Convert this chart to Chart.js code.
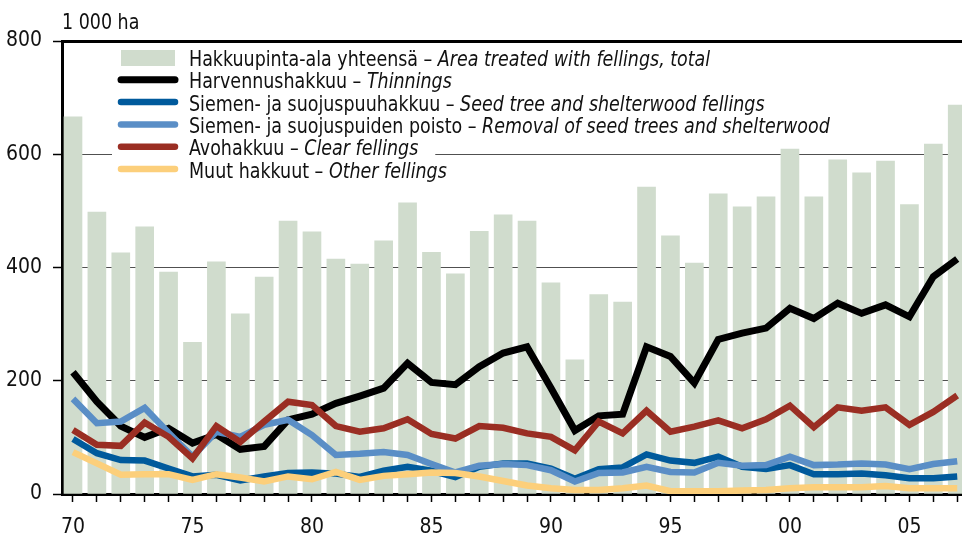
<!DOCTYPE html>
<html><head><meta charset="utf-8">
<script src="https://cdn.jsdelivr.net/npm/chart.js@4"></script>
<style>html,body{margin:0;padding:0;background:#fff}#wrap{position:relative;width:962px;height:534px}</style>
</head><body><div id="wrap"><canvas id="c" width="962" height="534"></canvas></div>
<script>
// ---- data ----
const years = [1970,1971,1972,1973,1974,1975,1976,1977,1978,1979,1980,1981,1982,1983,1984,1985,1986,1987,1988,1989,1990,1991,1992,1993,1994,1995,1996,1997,1998,1999,2000,2001,2002,2003,2004,2005,2006,2007];
const totalArea  = [666,498,426,472,392,268,410,318,383,482,463,415,406,447,514,427,389,464,493,482,373,237,352,339,542,456,408,530,507,525,609,525,590,567,588,511,618,687];
const thinnings  = [215,163,120,100,116,90,105,79,84,131,141,160,173,187,231,197,193,225,249,260,187,112,138,141,260,243,196,273,284,293,328,310,337,319,334,313,384,415];
const seedTree   = [97,72,60,59,45,31,34,24,31,37,38,36,30,41,48,41,30,48,54,54,45,27,44,47,70,59,55,66,48,44,51,35,35,36,33,28,28,31];
const removal    = [168,125,128,152,108,66,110,101,122,131,104,69,71,74,69,53,38,50,53,51,42,22,37,38,48,39,38,55,50,51,66,51,52,54,52,44,53,58];
const clearFell  = [113,87,85,126,101,63,120,92,128,163,157,120,110,116,132,106,98,120,117,107,101,77,128,107,147,110,119,130,116,132,156,118,153,147,153,122,145,174];
const otherFell  = [74,54,34,35,35,25,35,29,22,31,26,39,25,32,35,38,37,31,23,15,10,7,7,10,15,5,5,5,6,7,10,12,12,12,14,10,10,10];

const xLabelYears = [1970,1975,1980,1985,1990,1995,2000,2005];
const xLabelTexts = ['70','75','80','85','90','95','00','05'];
const yTicks = [0,200,400,600,800];
const unitLabel = '1 000 ha';

const legendFi = ['Hakkuupinta-ala yhteensä','Harvennushakkuu','Siemen- ja suojuspuuhakkuu','Siemen- ja suojuspuiden poisto','Avohakkuu','Muut hakkuut'];
const legendEn = ['Area treated with fellings, total','Thinnings','Seed tree and shelterwood fellings','Removal of seed trees and shelterwood','Clear fellings','Other fellings'];
const colors = ['#d0dccd','#000000','#005a9c','#5a8ec6','#9a2e23','#fccf7b'];

// ---- chart ----
const FONT = '"Liberation Sans Narrow","DejaVu Sans Condensed","Arial Narrow",sans-serif';
const FSIZE = 21;
const SQUEEZE = 0.925;
const pts = arr => years.map((y,i)=>({x:y, y:arr[i]}));
const lineDs = (i, arr, w, order) => ({
  type:'line', label:legendFi[i], data:pts(arr), borderColor:colors[i], backgroundColor:colors[i],
  borderWidth:w, pointRadius:0, tension:0, borderJoinStyle:'miter', borderCapStyle:'butt', order, fill:false
});

function squeezedText(c, txt, x, y){
  c.save();
  c.translate(x, y);
  c.scale(SQUEEZE, 1);
  c.fillText(txt, 0, 0);
  c.restore();
  return c.measureText(txt).width * SQUEEZE;
}

const overlay = {
  id:'overlay',
  afterDraw(chart){
    const c = chart.ctx;
    c.save();
    c.textBaseline = 'alphabetic';
    c.textAlign = 'left';
    c.fillStyle = '#111';
    c.font = `${FSIZE}px ${FONT}`;
    squeezedText(c, unitLabel, 62, 29);
    const base0 = 66, step = 22.3;
    legendFi.forEach((fi,i)=>{
      const b = base0 + i*step;
      c.font = `${FSIZE}px ${FONT}`;
      const w1 = c.measureText(fi + ' – ').width * SQUEEZE;
      c.font = `italic ${FSIZE}px ${FONT}`;
      const w2 = c.measureText(legendEn[i]).width * SQUEEZE;
      c.fillStyle = '#fff';
      c.fillRect(112, b-17, 189-112 + w1 + w2 + 17, 23);
    });
    legendFi.forEach((fi,i)=>{
      const b = base0 + i*step;
      if (i===0){
        c.fillStyle = colors[0];
        c.fillRect(121, 50, 54, 16);
      } else {
        c.beginPath();
        c.strokeStyle = colors[i];
        c.lineWidth = i===1 ? 7 : 6.5;
        c.lineCap = 'round';
        c.moveTo(121, b-8.5); c.lineTo(175, b-8.5);
        c.stroke();
      }
      c.fillStyle = '#111';
      c.font = `${FSIZE}px ${FONT}`;
      const w1 = squeezedText(c, fi + ' – ', 189, b);
      c.font = `italic ${FSIZE}px ${FONT}`;
      squeezedText(c, legendEn[i], 189 + w1, b);
    });
    c.restore();
  }
};

new Chart(document.getElementById('c'), {
  type:'bar',
  data:{ datasets:[
    lineDs(5, otherFell, 6.5, 1),
    lineDs(4, clearFell, 6.5, 2),
    lineDs(3, removal, 6.5, 3),
    lineDs(2, seedTree, 6.5, 4),
    lineDs(1, thinnings, 7, 5),
    { type:'bar', label:legendFi[0], data:pts(totalArea), backgroundColor:colors[0], barThickness:18, order:10, borderWidth:0 }
  ]},
  options:{
    responsive:false, animation:false, devicePixelRatio:1,
    layout:{ padding:{ top:41, left:0, right:0, bottom:0 } },
    plugins:{ legend:{ display:false }, tooltip:{ enabled:false }, title:{ display:false } },
    scales:{
      x:{
        type:'linear', min:1969.54, max:2007.2, z:1, offset:false,
        afterBuildTicks: s => { s.ticks = years.map(v=>({value:v})); },
        afterFit: s => { s.height = 40; s.paddingLeft = 0; s.paddingRight = 0; },
        ticks:{ autoSkip:false, maxRotation:0, minRotation:0, padding:13, color:'#111',
          font:{ family:FONT, size:FSIZE },
          callback: v => { const k = xLabelYears.indexOf(v); return k>=0 ? xLabelTexts[k] : ''; } },
        grid:{ drawOnChartArea:false, drawTicks:true, tickLength:8, tickColor:'#000', tickWidth:1.5, offset:false },
        border:{ display:true, color:'#000', width:3 }
      },
      y:{
        min:0, max:800,
        afterBuildTicks: s => { s.ticks = yTicks.map(v=>({value:v})); },
        afterFit: s => { s.width = 62; },
        ticks:{ padding:11, color:'#111', font:{ family:FONT, size:FSIZE } },
        grid:{
          color: c => (c.tick && c.tick.value===800) ? '#000' : '#505050',
          lineWidth: c => (c.tick && c.tick.value===800) ? 3 : 1,
          drawTicks:true, tickLength:9, tickColor:'#000', tickWidth:1.5
        },
        border:{ display:true, color:'#000', width:3 }
      }
    }
  },
  plugins:[overlay]
});
</script>
</body></html>
